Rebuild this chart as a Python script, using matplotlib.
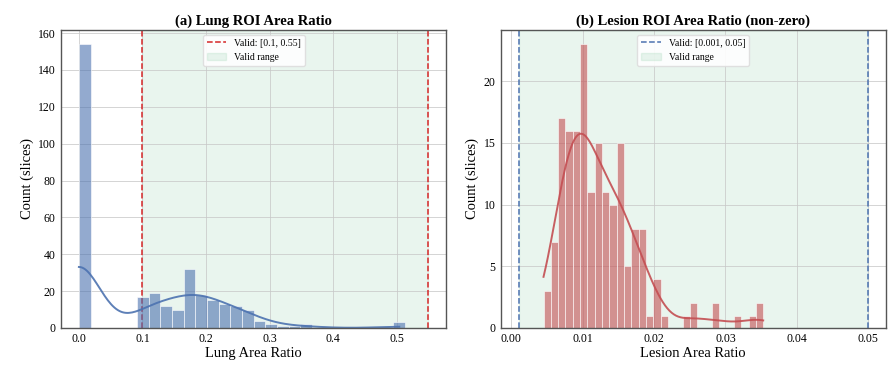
import numpy as np
import matplotlib
matplotlib.use("Agg")
import matplotlib.pyplot as plt
import seaborn as sns

# ── Histogram counts per bin (30 bins each) ──────────────────────────────────
lung_range = (0.0, 0.55)
lung_counts = [154, 0, 0, 0, 0, 17, 19, 12, 10, 32,
               18, 15, 13, 12, 10, 4, 2, 1, 1, 2,
               0, 0, 0, 0, 0, 0, 0, 3, 0, 0]
lung_valid = (0.1, 0.55)

lesion_range = (0.0045, 0.0353)
lesion_counts = [3, 7, 17, 16, 16, 23, 11, 15, 11, 10,
                 15, 5, 8, 8, 1, 4, 1, 0, 0, 1,
                 2, 0, 0, 2, 0, 0, 1, 0, 1, 2]
lesion_valid = (0.001, 0.05)

titles = ["(a) Lung ROI Area Ratio", "(b) Lesion ROI Area Ratio (non-zero)"]
xlabels = ["Lung Area Ratio", "Lesion Area Ratio"]
ylabel = "Count (slices)"


def samples_from_counts(counts, value_range):
    """Expand per-bin counts into one value per slice (bin centres, ends at the edges)."""
    edges = np.linspace(value_range[0], value_range[1], len(counts) + 1)
    reps = 0.5 * (edges[:-1] + edges[1:])
    reps[0] = edges[0]
    reps[-1] = edges[-1]
    return np.repeat(reps, counts), edges


plt.rcParams["font.family"] = ["Liberation Serif", "DejaVu Serif"]

fig = plt.figure(figsize=(8.9, 3.66), dpi=100)
ax_l = fig.add_axes([0.069, 0.104, 0.432, 0.814])
ax_r = fig.add_axes([0.563, 0.104, 0.432, 0.814])

panels = [
    (ax_l, lung_counts, lung_range, lung_valid, "#4C72B0", "#d62728", "Valid: [0.1, 0.55]"),
    (ax_r, lesion_counts, lesion_range, lesion_valid, "#C44E52", "#4C72B0", "Valid: [0.001, 0.05]"),
]

for i, (ax, counts, rng, valid, bar_color, line_color, valid_label) in enumerate(panels):
    values, edges = samples_from_counts(counts, rng)

    ax.axvspan(valid[0], valid[1], color="#2ca05a", alpha=0.1, label="Valid range", zorder=0)
    ax.axvline(valid[0], color=line_color, linestyle="--", linewidth=1.1, label=valid_label, zorder=1)
    ax.axvline(valid[1], color=line_color, linestyle="--", linewidth=1.1, zorder=1)

    sns.histplot(x=values, bins=edges, kde=True, ax=ax, color=bar_color,
                 alpha=0.6, edgecolor="white", linewidth=0.4,
                 line_kws={"linewidth": 1.4, "alpha": 0.9}, zorder=2)

    ax.set_title(titles[i], fontsize=10.5, fontweight="bold", pad=4)
    ax.set_xlabel(xlabels[i], fontsize=10.5, labelpad=1)
    ax.set_ylabel(ylabel, fontsize=10.5, labelpad=3)
    ax.tick_params(labelsize=8.5, length=0, pad=4)
    ax.grid(True, color="#c8c8c8", linewidth=0.6, alpha=0.9)
    ax.set_axisbelow(True)
    for side, spine in ax.spines.items():
        spine.set_color("#555555")
        spine.set_linewidth(1.0)

    handles, labels = ax.get_legend_handles_labels()
    order = [labels.index(valid_label), labels.index("Valid range")]
    ax.legend([handles[k] for k in order], [labels[k] for k in order],
              loc="upper center", fontsize=7, frameon=True, framealpha=0.9,
              edgecolor="#dddddd", handlelength=2.0, borderpad=0.4)

ax_l.set_yticks(np.arange(0, 161, 20))
ax_r.set_yticks(np.arange(0, 21, 5))
ax_l.set_xticks(np.arange(0, 0.51, 0.1))
ax_r.set_xticks(np.arange(0, 0.051, 0.01))
ax_l.xaxis.set_major_formatter(matplotlib.ticker.FormatStrFormatter("%.1f"))
ax_r.xaxis.set_major_formatter(matplotlib.ticker.FormatStrFormatter("%.2f"))

fig.savefig("out.png", dpi=100)
